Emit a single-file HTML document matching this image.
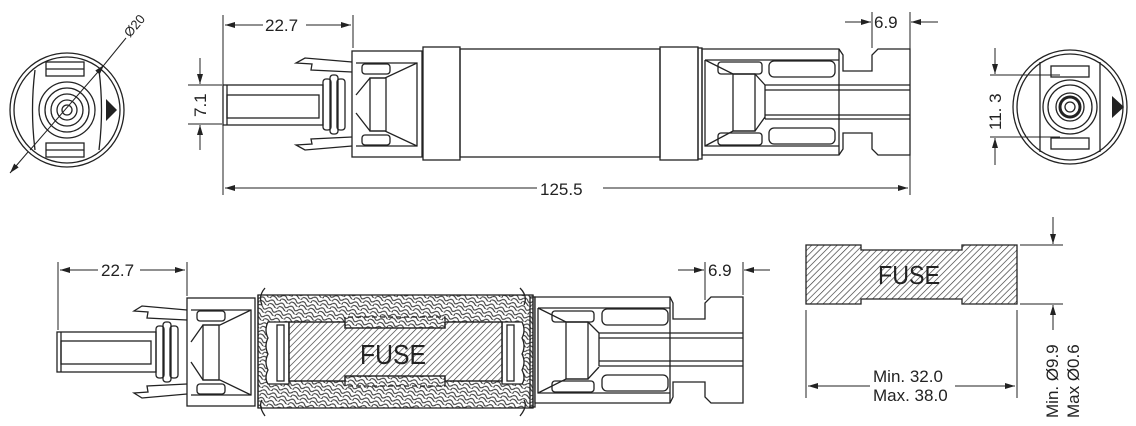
<!DOCTYPE html>
<html><head><meta charset="utf-8"><style>
html,body{margin:0;padding:0;background:#fff;}
svg{display:block;}
text{font-family:"Liberation Sans",sans-serif;fill:#222;}
</style></head><body>
<svg width="1136" height="426" viewBox="0 0 1136 426" xmlns="http://www.w3.org/2000/svg">
<defs>
<pattern id="h" width="4.5" height="4.5" patternUnits="userSpaceOnUse" patternTransform="rotate(45)">
<line x1="0" y1="0" x2="0" y2="4.5" stroke="#333" stroke-width="1.3"/>
</pattern>
<pattern id="w" width="10" height="8" patternUnits="userSpaceOnUse" patternTransform="rotate(18)">
<path d="M0 2 Q3 0 5 3 T10 2 M0 5.5 Q3 4 6 7 T10 5.5" fill="none" stroke="#333" stroke-width="1.1"/>
</pattern>
<marker id="a" viewBox="0 0 10 6" refX="10" refY="3" markerWidth="10" markerHeight="6" orient="auto-start-reverse" markerUnits="userSpaceOnUse">
<path d="M0 0 L10 3 L0 6 Z" fill="#222"/>
</marker>
</defs>
<g fill="none" stroke="#222" stroke-width="1.3">
<rect x="223" y="85" width="100" height="40"/>
<line x1="227" y1="85" x2="227" y2="125"/>
<rect x="227" y="95" width="92" height="23"/>
<rect x="323" y="79" width="8" height="51" rx="3"/>
<rect x="330" y="75" width="8" height="59" rx="3"/>
<rect x="337" y="79" width="8" height="51" rx="3"/>
<path d="M352 62 L305 58 L296 63 L312 64 L311 70 L352 72"/>
<path d="M352 146 L305 150 L296 145 L312 144 L311 139 L352 137"/>
<rect x="352" y="51" width="70" height="106"/>
<path d="M356 63 L417 63 L417 146 L356 146"/>
<path d="M417 63 L385 78 L370 78 L356 95 M417 146 L385 131 L370 131 L356 113"/>
<rect x="370" y="78" width="16" height="53"/>
<rect x="362" y="64" width="28" height="10" rx="3"/>
<rect x="362" y="135" width="28" height="10" rx="3"/>
<rect x="423" y="47" width="37" height="113"/>
<rect x="460" y="49" width="200" height="108"/>
<rect x="660" y="47" width="38" height="113"/>
<rect x="698" y="48" width="4" height="111"/>
<path d="M702 49 L839 49 L843 55 L843 71 L872 71 L872 55 L878 49 L910 49 L910 155 L878 155 L872 149 L872 133 L843 133 L843 149 L839 155 L702 155 Z"/>
<line x1="839" y1="49" x2="839" y2="155"/>
<path d="M705 60 L839 60 M705 60 L705 146 L839 146"/>
<path d="M705 60 L733 74 L755 74 L765 85 M705 146 L733 131 L755 131 L765 117"/>
<rect x="733" y="74" width="22" height="57"/>
<rect x="718" y="62" width="44" height="12" rx="3"/>
<rect x="718" y="133" width="44" height="12" rx="3"/>
<rect x="769" y="61" width="66" height="16" rx="5"/>
<rect x="769" y="128" width="66" height="16" rx="5"/>
<path d="M765 85 L910 85 M765 90 L910 90 M765 115 L910 115 M765 119 L910 119"/>
<line x1="765" y1="85" x2="765" y2="119"/>
</g>
<g stroke="#222" stroke-width="1" fill="none">
<line x1="223" y1="15" x2="223" y2="195"/>
<line x1="353" y1="15" x2="353" y2="48"/>
<line x1="225" y1="25" x2="263" y2="25" marker-start="url(#a)"/>
<line x1="306" y1="25" x2="351" y2="25" marker-end="url(#a)"/>
<line x1="910" y1="12" x2="910" y2="195"/>
<line x1="872" y1="12" x2="872" y2="48"/>
<line x1="845" y1="22" x2="871" y2="22" marker-end="url(#a)"/>
<line x1="938" y1="22" x2="911" y2="22" marker-end="url(#a)"/>
<line x1="225" y1="188" x2="537" y2="188" marker-start="url(#a)"/>
<line x1="603" y1="188" x2="908" y2="188" marker-end="url(#a)"/>
<line x1="188" y1="85" x2="222" y2="85"/>
<line x1="188" y1="124" x2="222" y2="124"/>
<line x1="200" y1="58" x2="200" y2="84" marker-end="url(#a)"/>
<line x1="200" y1="150" x2="200" y2="125" marker-end="url(#a)"/>
<line x1="990" y1="75" x2="1060" y2="75"/>
<line x1="990" y1="137" x2="1060" y2="137"/>
<line x1="995" y1="48" x2="995" y2="74" marker-end="url(#a)"/>
<line x1="995" y1="165" x2="995" y2="138" marker-end="url(#a)"/>
</g>
<text x="265" y="31" font-size="17">22.7</text>
<text x="874" y="28" font-size="17">6.9</text>
<text x="540" y="195" font-size="17">125.5</text>
<text x="0" y="0" font-size="17" transform="translate(206,117) rotate(-90)">7.1</text>
<text x="0" y="0" font-size="17" transform="translate(1001,130) rotate(-90)">11. 3</text>

<g fill="none" stroke="#222" stroke-width="1.3">
<circle cx="1070" cy="107" r="57"/>
<circle cx="1070" cy="107" r="53"/>
<path d="M1040 62 L1040 152 M1100 62 L1100 152"/>
<rect x="1051" y="66" width="38" height="11"/>
<rect x="1051" y="138" width="38" height="11"/>
<circle cx="1070" cy="107" r="27"/>
<circle cx="1070" cy="107" r="22"/>
<circle cx="1070" cy="107" r="14"/>
<circle cx="1070" cy="107" r="10" stroke-width="3"/>
<circle cx="1070" cy="107" r="5"/>
</g>
<path d="M1112 96 L1124 107 L1112 118 Z" fill="#222"/>

<g fill="none" stroke="#222" stroke-width="1.3">
<circle cx="67" cy="110" r="57"/>
<circle cx="67" cy="110" r="53"/>
<path d="M35 70 Q30 110 35 150 M99 70 Q104 110 99 150"/>
<rect x="46" y="62" width="38" height="14"/>
<line x1="46" y1="69" x2="84" y2="69"/>
<rect x="46" y="143" width="38" height="14"/>
<line x1="46" y1="150" x2="84" y2="150"/>
<circle cx="67" cy="110" r="28"/>
<circle cx="67" cy="110" r="22"/>
<circle cx="67" cy="110" r="16"/>
<circle cx="67" cy="110" r="10"/>
<circle cx="67" cy="110" r="5"/>
</g>
<path d="M106 99 L117 110 L106 121 Z" fill="#222"/>
<g stroke="#222" stroke-width="1"><line x1="30" y1="150" x2="104" y2="65" marker-end="url(#a)"/><line x1="10" y1="173" x2="28" y2="152" marker-start="url(#a)"/><line x1="104" y1="65" x2="126" y2="38"/></g>
<text x="0" y="0" font-size="13" transform="translate(130,38) rotate(-50)">Ø20</text>

<g fill="none" stroke="#222" stroke-width="1.3">
<rect x="57" y="332" width="99" height="40"/>
<line x1="61" y1="332" x2="61" y2="372"/>
<rect x="61" y="341" width="90" height="23"/>
<rect x="156" y="326" width="8" height="52" rx="3"/>
<rect x="163" y="322" width="8" height="60" rx="3"/>
<rect x="170" y="326" width="8" height="52" rx="3"/>
<path d="M187 310 L142 306 L134 311 L148 312 L147 318 L187 320"/>
<path d="M187 394 L142 398 L134 393 L148 392 L147 386 L187 384"/>
<rect x="187" y="298" width="68" height="108"/>
<path d="M191 310 L251 310 L251 395 L191 395"/>
<path d="M251 310 L220 325 L203 325 L191 342 M251 395 L220 380 L203 380 L191 362"/>
<rect x="203" y="325" width="16" height="55"/>
<rect x="197" y="311" width="28" height="10" rx="3"/>
<rect x="197" y="384" width="28" height="10" rx="3"/>
<rect x="258" y="295" width="275" height="113" fill="url(#w)"/>
<path d="M268 322 Q264 330 268 338 Q264 346 268 354 Q264 362 268 370 Q264 378 268 384 L289 384 L289 322 Z" fill="#fff"/>
<path d="M522 322 Q526 330 522 338 Q526 346 522 354 Q526 362 522 370 Q526 378 522 384 L502 384 L502 322 Z" fill="#fff"/>
<rect x="277" y="325" width="7" height="56" fill="#fff"/>
<rect x="507" y="325" width="7" height="56" fill="#fff"/>
<path d="M289 322 L345 322 L345 328 L445 328 L445 322 L502 322 L502 381 L445 381 L445 376 L345 376 L345 381 L289 381 Z" fill="#fff"/>
<path d="M289 322 L345 322 L345 328 L445 328 L445 322 L502 322 L502 381 L445 381 L445 376 L345 376 L345 381 L289 381 Z" fill="url(#h)"/>
<path d="M345 322 L345 317 L445 317 L445 322" stroke-dasharray="5 3"/>
<path d="M345 381 L345 386 L445 386 L445 381" stroke-dasharray="5 3"/>
<line x1="258" y1="295" x2="258" y2="408"/><line x1="533" y1="295" x2="533" y2="408"/>
<path d="M265 288 Q258 296 262 305 M520 288 Q528 296 524 305 M262 400 Q258 406 265 416 M524 400 Q528 406 520 416"/>
<rect x="530" y="297" width="5" height="110"/>
<path d="M535 297 L670 297 L673 303 L673 319 L705 319 L705 303 L711 297 L743 297 L743 403 L711 403 L705 397 L705 382 L673 382 L673 397 L670 403 L535 403 Z" fill="#fff"/>
<line x1="670" y1="297" x2="670" y2="403"/>
<path d="M538 308 L670 308 M538 308 L538 393 L670 393"/>
<path d="M538 308 L566 322 L588 322 L599 333 M538 393 L566 379 L588 379 L599 367"/>
<rect x="566" y="322" width="22" height="57"/>
<rect x="552" y="311" width="42" height="11" rx="3"/>
<rect x="552" y="381" width="42" height="11" rx="3"/>
<rect x="602" y="309" width="66" height="16" rx="5"/>
<rect x="602" y="375" width="66" height="16" rx="5"/>
<path d="M599 333 L743 333 M599 338 L743 338 M599 361 L743 361 M599 366 L743 366"/>
<line x1="599" y1="333" x2="599" y2="366"/>
<path d="M806 245 L861 245 L861 250 L962 250 L962 245 L1017 245 L1017 304 L962 304 L962 299 L861 299 L861 304 L806 304 Z" fill="url(#h)"/>
</g>
<text x="360" y="364" font-size="28" textLength="66" lengthAdjust="spacingAndGlyphs">FUSE</text>
<text x="878" y="284" font-size="26" textLength="62" lengthAdjust="spacingAndGlyphs">FUSE</text>
<g stroke="#222" stroke-width="1" fill="none">
<line x1="58" y1="262" x2="58" y2="330"/>
<line x1="187" y1="262" x2="187" y2="296"/>
<line x1="60" y1="270" x2="98" y2="270" marker-start="url(#a)"/>
<line x1="140" y1="270" x2="185" y2="270" marker-end="url(#a)"/>
<line x1="705" y1="262" x2="705" y2="300"/>
<line x1="743" y1="262" x2="743" y2="295"/>
<line x1="678" y1="270" x2="704" y2="270" marker-end="url(#a)"/>
<line x1="770" y1="270" x2="744" y2="270" marker-end="url(#a)"/>
<line x1="806" y1="310" x2="806" y2="398"/>
<line x1="1017" y1="310" x2="1017" y2="398"/>
<line x1="808" y1="386" x2="870" y2="386" marker-start="url(#a)"/>
<line x1="955" y1="386" x2="1015" y2="386" marker-end="url(#a)"/>
<line x1="1020" y1="245" x2="1063" y2="245"/>
<line x1="1020" y1="304" x2="1063" y2="304"/>
<line x1="1053" y1="217" x2="1053" y2="244" marker-end="url(#a)"/>
<line x1="1053" y1="330" x2="1053" y2="305" marker-end="url(#a)"/>
</g>
<text x="101" y="276" font-size="17">22.7</text>
<text x="708" y="276" font-size="17">6.9</text>
<text x="873" y="382" font-size="17">Min. 32.0</text>
<text x="873" y="401" font-size="17">Max. 38.0</text>
<text x="0" y="0" font-size="17" transform="translate(1058,418) rotate(-90)">Min. Ø9.9</text>
<text x="0" y="0" font-size="17" transform="translate(1079,418) rotate(-90)">Max Ø0.6</text>
</svg>
</body></html>
